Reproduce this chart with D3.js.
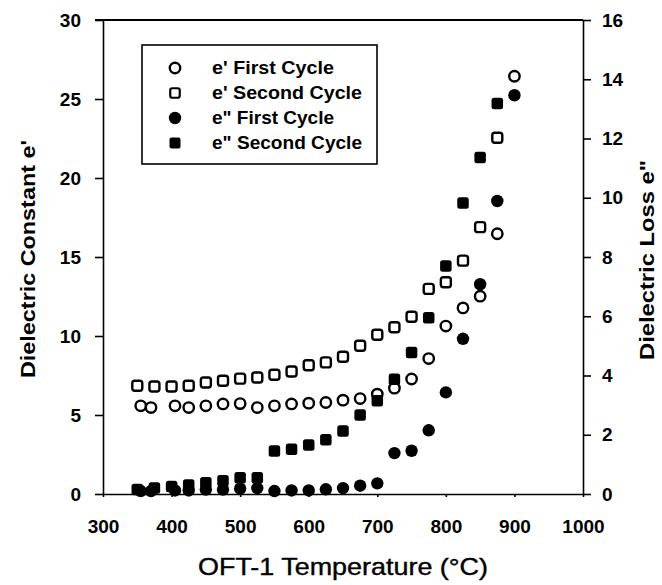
<!DOCTYPE html>
<html>
<head>
<meta charset="utf-8">
<script src="https://cdn.jsdelivr.net/npm/d3@7"></script>
<style>
  body { margin: 0; background: #fff; }
  svg { font-family: "Liberation Sans", Arial, sans-serif; }
  .axis text { font-size: 19px; font-weight: bold; fill: #000; }
  .axis path, .axis line { stroke: #000; stroke-width: 1.6; }
</style>
</head>
<body>
<div id="chart"></div>
<script>
// temperatures (°C)
const temps_first = [355, 370, 405, 425, 450, 475, 500, 525, 550, 575, 600, 625, 650, 675, 700, 725, 750, 775, 800, 825, 850, 875, 900];
const temps_second = [350, 375, 400, 425, 450, 475, 500, 525, 550, 575, 600, 625, 650, 675, 700, 725, 750, 775, 800, 825, 850, 875];

// dielectric constant e' (left axis)
const ep_first = [5.58, 5.47, 5.58, 5.47, 5.58, 5.7, 5.72, 5.47, 5.58, 5.7, 5.75, 5.79, 5.94, 6.04, 6.32, 6.7, 7.28, 8.57, 10.63, 11.78, 12.52, 16.47, 26.44];
const ep_second = [6.85, 6.8, 6.8, 6.85, 7.06, 7.17, 7.3, 7.37, 7.55, 7.75, 8.15, 8.33, 8.69, 9.38, 10.08, 10.55, 11.22, 12.98, 13.4, 14.77, 16.89, 22.55];

// dielectric loss e" (right axis)
const epp_first = [0.1, 0.1, 0.12, 0.12, 0.15, 0.15, 0.18, 0.2, 0.1, 0.12, 0.12, 0.16, 0.2, 0.28, 0.36, 1.38, 1.46, 2.15, 3.43, 5.24, 7.08, 9.89, 13.46];
const epp_second = [0.15, 0.2, 0.25, 0.3, 0.38, 0.45, 0.55, 0.55, 1.45, 1.51, 1.65, 1.83, 2.13, 2.67, 3.15, 3.87, 4.78, 5.95, 7.7, 9.82, 11.36, 13.18];

const x_ticks = [300, 400, 500, 600, 700, 800, 900, 1000];
const left_ticks = [0, 5, 10, 15, 20, 25, 30];
const right_ticks = [0, 2, 4, 6, 8, 10, 12, 14, 16];

const legend_labels = ["e' First Cycle", "e' Second Cycle", "e\" First Cycle", "e\" Second Cycle"];

const width = 662, height = 585;
const plot_left = 103, plot_right = 583, plot_top = 20, plot_bottom = 494;

var svg = d3.select("#chart").append("svg")
    .attr("width", width)
    .attr("height", height);

var x = d3.scaleLinear().domain([300, 1000]).range([plot_left, plot_right]);
var yL = d3.scaleLinear().domain([0, 30]).range([plot_bottom, plot_top]);
var yR = d3.scaleLinear().domain([0, 16]).range([plot_bottom, plot_top]);

// axes
svg.append("g")
    .attr("class", "axis")
    .attr("transform", "translate(0," + plot_bottom + ")")
    .call(d3.axisBottom(x).tickValues(x_ticks).tickFormat(d3.format("d"))
        .tickSize(3).tickSizeOuter(0).tickPadding(23));

svg.append("g")
    .attr("class", "axis")
    .attr("transform", "translate(" + plot_left + ",0)")
    .call(d3.axisLeft(yL).tickValues(left_ticks).tickSize(8).tickSizeOuter(0).tickPadding(14));

svg.append("g")
    .attr("class", "axis")
    .attr("transform", "translate(" + plot_right + ",0)")
    .call(d3.axisRight(yR).tickValues(right_ticks).tickSize(8).tickSizeOuter(0).tickPadding(11));

// top frame line
svg.append("line")
    .attr("x1", plot_left - 8).attr("x2", plot_right)
    .attr("y1", plot_top).attr("y2", plot_top)
    .attr("stroke", "#000")
    .attr("stroke-width", 2);

// axis titles
svg.append("text")
    .attr("transform", "translate(" + 28 + "," + 259 + ") rotate(-90)")
    .attr("text-anchor", "middle")
    .attr("dy", "0.35em")
    .attr("font-size", 21)
    .attr("font-weight", "bold")
    .attr("textLength", 238)
    .attr("lengthAdjust", "spacingAndGlyphs")
    .text("Dielectric Constant e'");

svg.append("text")
    .attr("transform", "translate(" + 647 + "," + 260 + ") rotate(-90)")
    .attr("text-anchor", "middle")
    .attr("dy", "0.35em")
    .attr("font-size", 21)
    .attr("font-weight", "bold")
    .attr("textLength", 200)
    .attr("lengthAdjust", "spacingAndGlyphs")
    .text("Dielectric Loss e\"");

svg.append("text")
    .attr("x", (198 + 488) / 2)
    .attr("y", 567)
    .attr("text-anchor", "middle")
    .attr("dy", "0.35em")
    .attr("font-size", 24)
    .attr("stroke", "#000")
    .attr("stroke-width", 0.4)
    .attr("textLength", 290)
    .attr("lengthAdjust", "spacingAndGlyphs")
    .text("OFT-1 Temperature (°C)");

// marker helpers
function circles(temps, vals, y, filled){
    svg.append("g").selectAll("circle")
        .data(temps)
        .enter()
        .append("circle")
        .attr("cx", function(d){ return x(d); })
        .attr("cy", function(d, i){ return y(vals[i]); })
        .attr("r", filled ? 6.2 : 5.2)
        .attr("fill", filled ? "#000" : "#fff")
        .attr("stroke", "#000")
        .attr("stroke-width", filled ? 0 : 2.4);
}

function squares(temps, vals, y, filled){
    var s = filled ? 11.5 : 10;
    svg.append("g").selectAll("rect")
        .data(temps)
        .enter()
        .append("rect")
        .attr("x", function(d){ return x(d) - s / 2; })
        .attr("y", function(d, i){ return y(vals[i]) - s / 2; })
        .attr("width", s)
        .attr("height", s)
        .attr("rx", 2.5)
        .attr("fill", filled ? "#000" : "#fff")
        .attr("stroke", "#000")
        .attr("stroke-width", filled ? 0 : 2.4);
}

circles(temps_first, ep_first, yL, false);
squares(temps_second, ep_second, yL, false);
circles(temps_first, epp_first, yR, true);
squares(temps_second, epp_second, yR, true);

// legend
var lg = svg.append("g");
lg.append("rect")
    .attr("x", 142).attr("y", 45)
    .attr("width", 235).attr("height", 119)
    .attr("fill", "#fff")
    .attr("stroke", "#000")
    .attr("stroke-width", 1.6);

var rows = lg.selectAll("g.row")
    .data(legend_labels)
    .enter()
    .append("g")
    .attr("class", "row")
    .attr("transform", function(d, i){ return "translate(175," + (68 + i * 25) + ")"; });

rows.each(function(d, i){
    var g = d3.select(this);
    var filled = i >= 2;
    if(i % 2 == 0){
        g.append("circle")
            .attr("r", filled ? 6.2 : 5.2)
            .attr("fill", filled ? "#000" : "#fff")
            .attr("stroke", "#000")
            .attr("stroke-width", filled ? 0 : 2.4);
    } else {
        var s = filled ? 11 : 9.5;
        g.append("rect")
            .attr("x", -s / 2).attr("y", -s / 2)
            .attr("width", s).attr("height", s)
            .attr("rx", 2)
            .attr("fill", filled ? "#000" : "#fff")
            .attr("stroke", "#000")
            .attr("stroke-width", filled ? 0 : 2.2);
    }
});

rows.append("text")
    .attr("x", 37)
    .attr("dy", "0.35em")
    .attr("font-size", 18)
    .attr("font-weight", "bold")
    .attr("textLength", function(d, i){ return i % 2 == 0 ? 122 : 150; })
    .attr("lengthAdjust", "spacingAndGlyphs")
    .text(function(d){ return d; });
</script>
</body>
</html>
